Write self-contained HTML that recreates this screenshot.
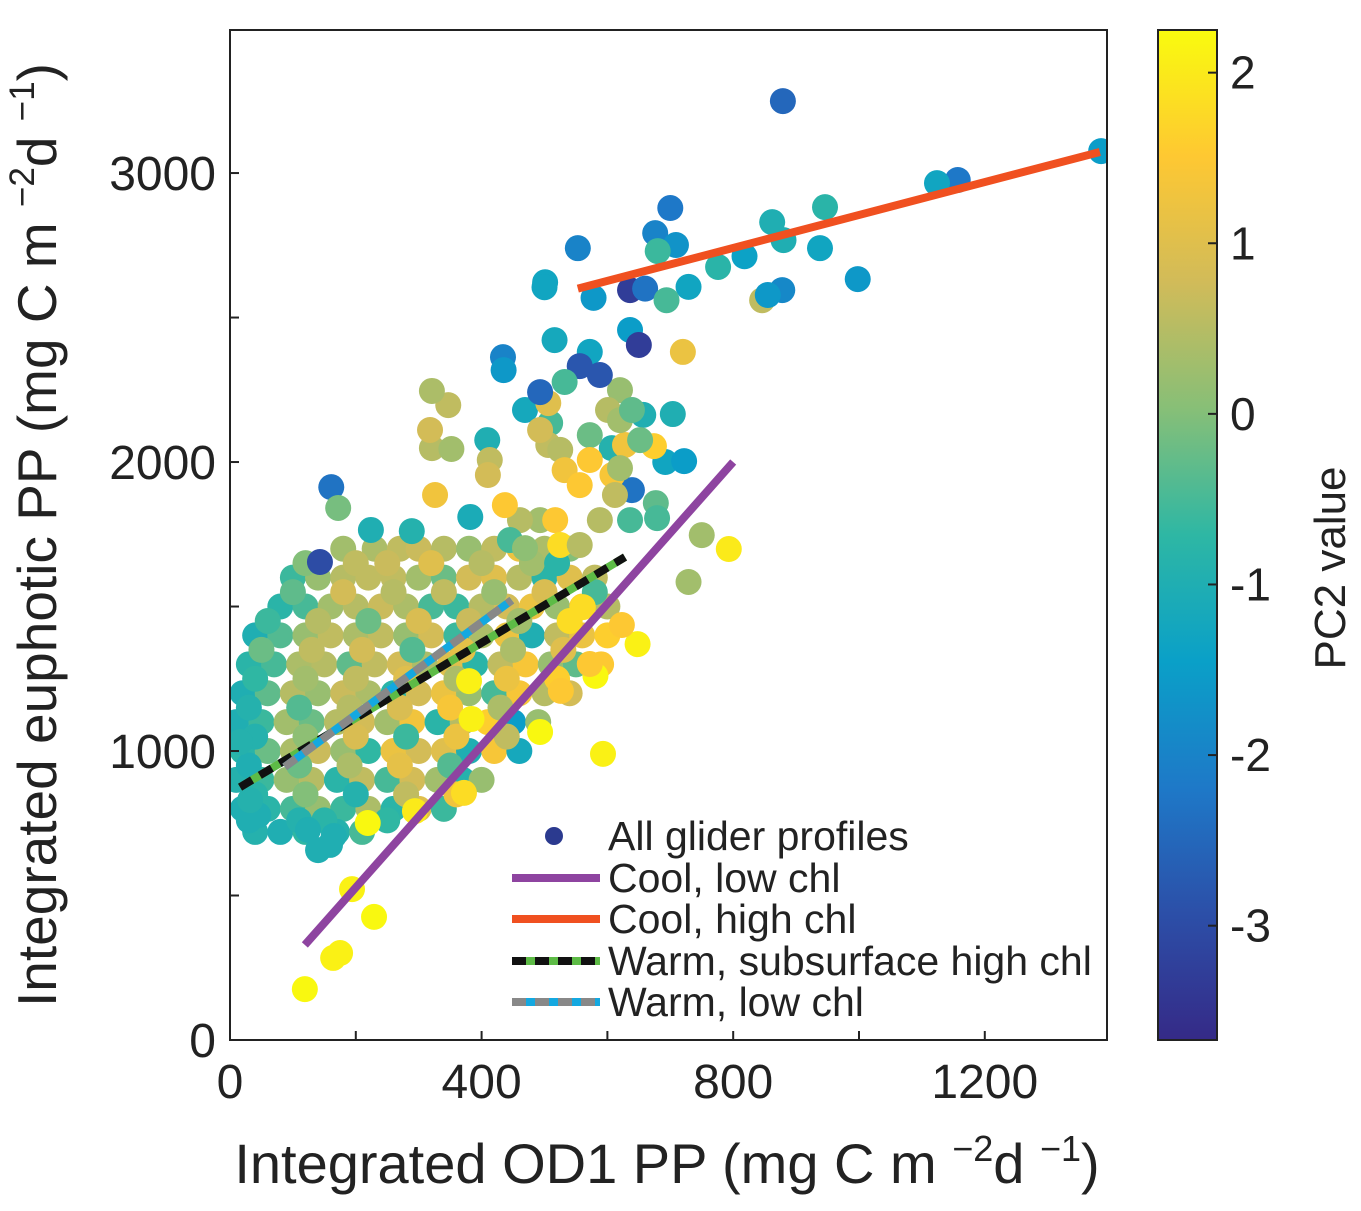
<!DOCTYPE html>
<html><head><meta charset="utf-8"><style>
html,body{margin:0;padding:0;background:#fff}
svg{display:block;font-family:"Liberation Sans",Arial,sans-serif}
</style></head><body>
<svg id="chart" width="1361" height="1211" viewBox="0 0 1361 1211" xmlns="http://www.w3.org/2000/svg">
<defs>
<linearGradient id="parula" x1="0" y1="1" x2="0" y2="0">
<stop offset="0" stop-color="#352A87"/><stop offset="0.125" stop-color="#2C4FA8"/><stop offset="0.25" stop-color="#1E79C8"/><stop offset="0.375" stop-color="#0AA0C8"/><stop offset="0.5" stop-color="#2EB7A4"/><stop offset="0.625" stop-color="#87BF77"/><stop offset="0.75" stop-color="#D1BB59"/><stop offset="0.875" stop-color="#FEC832"/><stop offset="1" stop-color="#F9FB0E"/>
</linearGradient>
<clipPath id="plotclip"><rect x="230" y="30" width="877" height="1010"/></clipPath>
</defs>
<g id="points" clip-path="url(#plotclip)"></g>
<g id="lines"></g>
<rect x="230" y="30" width="877" height="1010" fill="none" stroke="#222" stroke-width="2"/>
<g id="axes"></g>
<text x="0" y="0" transform="translate(56,535) rotate(-90)" text-anchor="middle" font-size="55" fill="#222">Integrated euphotic PP (mg C m <tspan font-size="35" dy="-22">−2</tspan><tspan dy="22">d </tspan><tspan font-size="35" dy="-22">−1</tspan><tspan dy="22">)</tspan></text>
<text x="667" y="1183" text-anchor="middle" font-size="56" fill="#222">Integrated OD1 PP (mg C m <tspan font-size="36" dy="-22">−2</tspan><tspan dy="22">d </tspan><tspan font-size="36" dy="-22">−1</tspan><tspan dy="22">)</tspan></text>
<rect x="1158" y="30" width="59" height="1010" fill="url(#parula)" stroke="#222" stroke-width="2"/>
<g id="cbaxis"></g>
<text transform="translate(1345,568) rotate(-90)" text-anchor="middle" font-size="44" fill="#222">PC2 value</text>
<g>
<circle cx="554" cy="836" r="9" fill="#2b3a8f"/>
<text x="608" y="850" font-size="41" fill="#222">All glider profiles</text>
<line x1="512" y1="878" x2="600" y2="878" stroke="#8E44A0" stroke-width="8"/>
<text x="608" y="892" font-size="41" fill="#222">Cool, low chl</text>
<line x1="512" y1="919" x2="600" y2="919" stroke="#F05020" stroke-width="8"/>
<text x="608" y="933" font-size="41" fill="#222">Cool, high chl</text>
<line x1="512" y1="961" x2="600" y2="961" stroke="#5DBB46" stroke-width="8"/>
<line x1="512" y1="961" x2="600" y2="961" stroke="#111" stroke-width="8" stroke-dasharray="14 9"/>
<text x="608" y="975" font-size="41" fill="#222">Warm, subsurface high chl</text>
<line x1="512" y1="1002" x2="600" y2="1002" stroke="#14A8E0" stroke-width="8"/>
<line x1="512" y1="1002" x2="600" y2="1002" stroke="#888" stroke-width="8" stroke-dasharray="14 9"/>
<text x="608" y="1016" font-size="41" fill="#222">Warm, low chl</text>
</g>
</svg>
<script>
const xs = [
180,230,270,300,340,380,420,460,500,540,
100,140,180,220,260,300,340,380,420,460,500,540,580,
80,120,160,200,240,280,320,360,400,440,480,520,560,600,
40,80,120,160,200,240,280,320,360,400,440,480,520,560,600,
30,70,110,150,190,230,270,310,350,390,430,470,510,550,590,
20,60,100,140,180,220,260,300,340,380,420,460,500,540,
10,50,90,130,170,210,250,290,330,370,410,450,490,
20,60,100,140,180,220,260,300,340,380,420,460,
10,50,90,130,170,210,250,290,330,370,400,
20,60,100,140,180,220,260,300,340,
40,80,120,170,210,
120,200,250,320,400,480,520,
100,180,260,340,420,500,580,
60,140,220,300,380,460,540,
50,130,210,290,370,450,530,
40,120,200,280,360,440,520,
30,110,190,270,350,430,
40,120,200,280,360,440,
30,110,190,270,350,
40,120,200,280,360,
30,110,150,250,
140,159,165,124,45,32,16,
161,143,639,382,289,224,172,409,469,509,692,722,704,657,677,679,607,628,674,608,620,
321,318,347,321,352,413,410,326,506,572,620,601,620,639,652,506,493,525,532,556,572,588,612,636,493,461,437,517,525,556,445,469,
879,1385,1157,1124,946,700,676,709,862,880,553,680,938,818,776,998,501,729,636,660,878,578,694,846,855,500,636,650,720,516,434,435,572,588,556,493,532,
119,164,175,229,194,219,294,372,593,581,648,793,729,750,380,384,493,526,572,623,561
];
const ys = [
1700,1700,1700,1700,1700,1700,1700,1700,1700,1700,
1600,1600,1600,1600,1600,1600,1600,1600,1600,1600,1600,1600,1600,
1500,1500,1500,1500,1500,1500,1500,1500,1500,1500,1500,1500,1500,1500,
1400,1400,1400,1400,1400,1400,1400,1400,1400,1400,1400,1400,1400,1400,1400,
1300,1300,1300,1300,1300,1300,1300,1300,1300,1300,1300,1300,1300,1300,1300,
1200,1200,1200,1200,1200,1200,1200,1200,1200,1200,1200,1200,1200,1200,
1100,1100,1100,1100,1100,1100,1100,1100,1100,1100,1100,1100,1100,
1000,1000,1000,1000,1000,1000,1000,1000,1000,1000,1000,1000,
900,900,900,900,900,900,900,900,900,900,900,
800,800,800,800,800,800,800,800,800,
720,720,720,720,720,
1650,1650,1650,1650,1650,1650,1650,
1550,1550,1550,1550,1550,1550,1550,
1450,1450,1450,1450,1450,1450,1450,
1350,1350,1350,1350,1350,1350,1350,
1250,1250,1250,1250,1250,1250,1250,
1150,1150,1150,1150,1150,1150,
1050,1050,1050,1050,1050,1050,
950,950,950,950,950,
850,850,850,850,850,
760,760,760,760,
657,675,706,727,778,830,1031,
1913,1654,1903,1810,1761,1765,1841,2076,2180,2135,2000,2003,2166,2163,1858,1806,2048,2059,2055,1955,1979,
2048,2111,2197,2246,2045,2007,1955,1886,2204,2093,2249,2180,2145,2180,2076,2059,2111,2042,1972,1920,2007,1799,1886,1799,1799,1799,1851,1799,1713,1713,1730,1702,
3249,3076,2976,2965,2882,2879,2792,2751,2830,2768,2740,2730,2740,2712,2675,2633,2622,2606,2595,2600,2595,2568,2560,2560,2578,2605,2457,2405,2381,2422,2363,2318,2381,2301,2332,2242,2277,
176,284,301,426,522,751,792,855,990,1260,1370,1699,1585,1747,1242,1111,1066,1208,1301,1436,1498
];
const cs = [
0.3,0.4,0.6,0.7,0.5,0.2,0.6,1.2,0.4,0.0,
-0.6,0.2,0.5,0.6,0.6,0.3,-0.2,0.8,1.0,0.5,-0.8,1.0,0.6,
-0.8,-0.5,0.3,0.5,0.7,0.4,-0.5,-0.6,0.5,0.8,1.2,0.2,1.6,0.5,
-1.0,-0.4,0.2,0.6,0.4,0.6,0.2,0.8,-0.6,0.4,1.2,-1.0,0.6,1.2,1.6,
-0.8,-0.5,0.4,0.5,-0.3,0.6,0.8,0.4,1.0,-0.8,0.6,1.4,0.2,-0.3,1.5,
-1.0,-0.3,0.5,0.2,0.7,0.4,-0.8,0.8,1.2,0.2,-0.5,1.4,0.5,0.8,
-1.0,-0.6,0.3,-0.2,0.5,0.8,0.3,1.3,-0.8,0.5,1.6,-1.5,0.2,
-0.8,-0.2,0.4,0.7,0.2,-0.7,1.2,0.8,1.0,-1.0,1.4,-1.2,
-0.9,-0.6,0.2,0.5,-0.8,0.6,-0.5,0.8,0.3,-0.9,0.2,
-1.0,-0.8,-0.5,0.2,-0.6,0.4,-0.8,1.0,-0.6,
-0.9,-1.0,-0.7,-0.9,-0.5,
0.0,0.6,0.7,1.0,0.5,0.3,-0.8,
-0.3,0.8,0.5,0.6,0.2,0.9,-0.5,
-0.6,0.5,-0.2,0.9,0.7,0.3,1.8,
-0.2,0.6,0.8,-0.4,1.1,0.4,1.0,
-0.7,0.3,0.6,1.0,0.4,1.2,1.6,
-0.9,-0.4,0.5,0.9,1.4,0.4,
-0.9,0.1,0.9,-0.6,1.2,0.6,
-1.0,-0.2,0.4,1.1,-0.4,
-0.8,0.0,-0.9,0.6,1.3,
-1.0,-0.9,-0.8,-0.7,
-1.0,-1.0,-1.0,-1.0,-1.0,-0.9,-0.9,
-2.3,-3.0,-2.3,-1.1,-0.9,-1.0,-0.1,-1.0,-1.2,-0.5,-1.3,-1.5,-1.0,-1.0,-0.3,-0.5,-0.9,1.3,1.6,1.4,0.3,
0.5,0.8,0.6,0.4,0.3,0.6,0.8,1.3,1.0,-0.2,0.2,0.5,0.3,-0.3,-0.2,0.6,0.8,0.5,1.3,1.5,1.5,0.5,0.6,-0.5,0.3,0.5,1.5,1.5,1.8,0.5,-0.5,0.1,
-2.5,-1.5,-2.2,-1.3,-0.8,-2.2,-2.0,-1.7,-1.0,-1.0,-2.0,-0.6,-1.3,-1.4,-0.8,-1.6,-1.3,-1.3,-3.3,-2.3,-1.9,-1.6,-0.5,0.6,-1.6,-1.3,-1.5,-3.3,1.2,-1.2,-2.0,-1.6,-1.3,-2.8,-2.8,-2.5,-0.5,
2.2,2.1,2.1,2.2,2.1,2.2,2.0,1.8,2.1,2.2,2.1,2.0,0.3,0.3,2.1,2.1,2.2,1.5,1.5,1.5,1.8
];
const fitXs = [[119,800],[553,1383],[16,628],[87,448]];
const fitYs = [[329,2000],[2600,3073],[875,1671],[945,1522]];
const xTicks = [0,200,400,600,800,1000,1200];
const xTickLabels = ["0","","400","","800","","1200"];
const yTicks = [0,500,1000,1500,2000,2500,3000];
const yTickLabels = ["0","","1000","","2000","","3000"];
const cbTicks = [2,1,0,-1,-2,-3];
const cbTickLabels = ["2","1","0","-1","-2","-3"];

const NS="http://www.w3.org/2000/svg";
const X0=230,X1=1107,Y0=1040,Y1=30,XMAX=1394.3,YMAX=3495;
const sx=v=>X0+v*(X1-X0)/XMAX;
const sy=v=>Y0-v*(Y0-Y1)/YMAX;
const CMIN=-3.67,CMAX=2.25;
const sc=v=>Y0-(v-CMIN)/(CMAX-CMIN)*(Y0-Y1);
const stops=[[0,[53,42,135]],[0.125,[44,79,168]],[0.25,[30,121,200]],[0.375,[10,160,200]],[0.5,[46,183,164]],[0.625,[135,191,119]],[0.75,[209,187,89]],[0.875,[254,200,50]],[1,[249,251,14]]];
function color(c){let t=(c-CMIN)/(CMAX-CMIN);t=Math.max(0,Math.min(1,t));
for(let i=1;i<stops.length;i++){if(t<=stops[i][0]){const a=stops[i-1],b=stops[i],f=(t-a[0])/(b[0]-a[0]);
return "rgb("+a[1].map((v,k)=>Math.round(v+(b[1][k]-v)*f)).join(",")+")";}}return "rgb(249,251,14)";}
function mk(tag,attrs,parent){const e=document.createElementNS(NS,tag);for(const k in attrs)e.setAttribute(k,attrs[k]);parent.appendChild(e);return e;}

const pg=document.getElementById("points");
for(let i=0;i<xs.length;i++){
 const e=mk("circle",{cx:sx(xs[i]),cy:sy(ys[i]),r:13,fill:color(cs[i])},pg);
 
 
}
const lg=document.getElementById("lines");
const fitNames=["fit-cool-low-chl","fit-cool-high-chl","fit-warm-subsurface","fit-warm-low-chl"];
const bgCols=["#8E44A0","#F05020","#5DBB46","#14A8E0"];
for(let i=0;i<4;i++){
 const a={x1:sx(fitXs[i][0]),y1:sy(fitYs[i][0]),x2:sx(fitXs[i][1]),y2:sy(fitYs[i][1])};
 const l=mk("line",Object.assign({stroke:bgCols[i],"stroke-width":8},a),lg);
 
 
 if(i>=2){
  const d=mk("line",Object.assign({stroke:i==2?"#111":"#888","stroke-width":8,"stroke-dasharray":"14 9"},a),lg);
  
  
 }
}
const ag=document.getElementById("axes");
xTicks.forEach((v,i)=>{
 const t=mk("line",{x1:sx(v),x2:sx(v),y1:Y0,y2:Y0-9,stroke:"#222","stroke-width":2},ag);
 
 
 if(xTickLabels[i]){const tx=mk("text",{x:sx(v),y:1098,"text-anchor":"middle","font-size":48,fill:"#222"},ag);tx.textContent=xTickLabels[i];
 
 }
});
yTicks.forEach((v,i)=>{
 const t=mk("line",{x1:X0,x2:X0+9,y1:sy(v),y2:sy(v),stroke:"#222","stroke-width":2},ag);
 
 
 if(yTickLabels[i]){const tx=mk("text",{x:216,y:sy(v)+17,"text-anchor":"end","font-size":48,fill:"#222"},ag);tx.textContent=yTickLabels[i];
 
 }
});
const cg=document.getElementById("cbaxis");
cbTicks.forEach((v,i)=>{
 const t=mk("line",{x1:1217,x2:1208,y1:sc(v),y2:sc(v),stroke:"#222","stroke-width":2},cg);
 
 
 const tx=mk("text",{x:1230,y:sc(v)+16,"font-size":46,fill:"#222"},cg);tx.textContent=cbTickLabels[i];
 
 
});
</script>
</body></html>
